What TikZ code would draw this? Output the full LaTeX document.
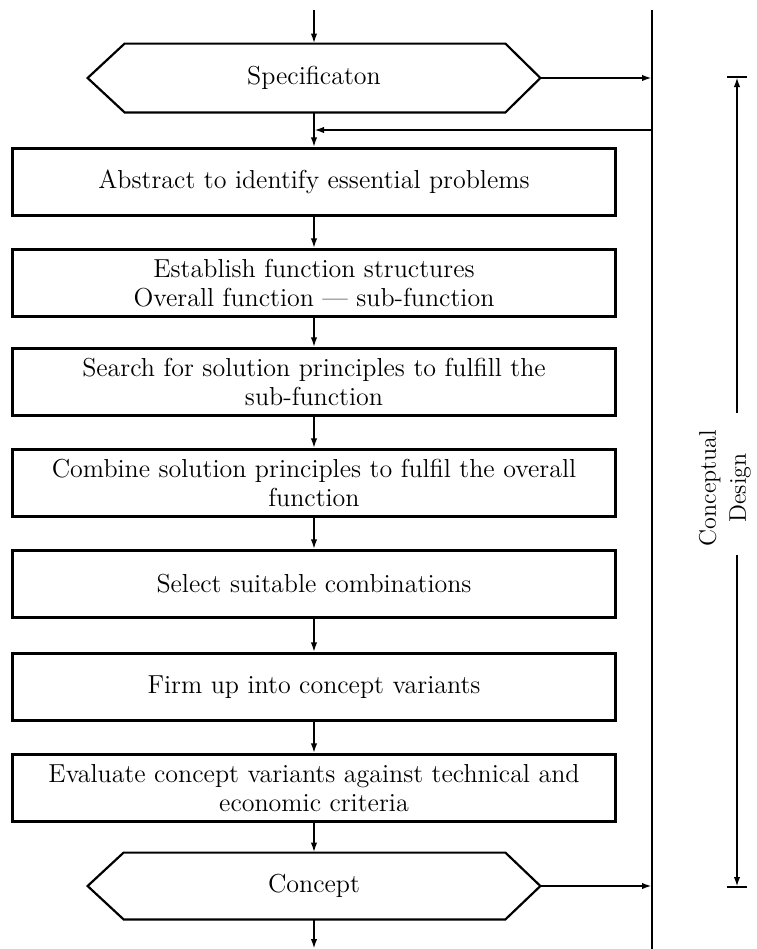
\documentclass[tikz,border=0pt]{standalone}
\usetikzlibrary{arrows.meta,calc}

\tikzset{
  flow/.style={line width=1.1pt},
  arr/.style={flow,-{Latex[length=5pt,width=3.2pt]}},
  stepbox/.style={draw,flow,minimum width=301.5pt,minimum height=33.5pt,
    align=center,inner sep=0pt,font=\fontsize{13}{14.5}\selectfont},
  hexlabel/.style={minimum width=226pt,minimum height=34pt,inner sep=0pt,
    font=\fontsize{13}{14.5}\selectfont},
  hexdraw/.style={flow},
  sidelabel/.style={align=center,rotate=90,font=\fontsize{12}{15}\selectfont}
}

\begin{document}
\begin{tikzpicture}[x=0.5pt,y=-0.5pt]
  \useasboundingbox (0,0) rectangle (756,949);

  % main column and side rail
  \coordinate (in) at (314,10);
  \coordinate (out) at (314,949);
  \coordinate (railtop) at (652,10);
  \coordinate (railbot) at (652,949);
  \coordinate (ret) at (652,130);

  % entry hexagon
  \node[hexlabel] (spec) at (314,78) {Specificaton};
  \draw[hexdraw] (spec.west) -- ([xshift=18.5pt]spec.north west)
    -- ([xshift=-17.5pt]spec.north east) -- (spec.east)
    -- ([xshift=-17.5pt]spec.south east) -- ([xshift=18.5pt]spec.south west) -- cycle;

  % process steps
  \node[stepbox] (b1) at (314,182) {Abstract to identify essential problems};
  \node[stepbox] (b2) at (314,283) {Establish function structures\\Overall function --- sub-function};
  \node[stepbox] (b3) at (314,382) {Search for solution principles to fulfill the\\sub-function};
  \node[stepbox] (b4) at (314,483) {Combine solution principles to fulfil the overall\\function};
  \node[stepbox] (b5) at (314,584) {Select suitable combinations};
  \node[stepbox] (b6) at (314,687) {Firm up into concept variants};
  \node[stepbox] (b7) at (314,788) {Evaluate concept variants against technical and\\economic criteria};

  % exit hexagon
  \node[hexlabel,minimum height=33pt] (conc) at (314,886) {Concept};
  \draw[hexdraw] (conc.west) -- ([xshift=18pt]conc.north west)
    -- ([xshift=-17.5pt]conc.north east) -- (conc.east)
    -- ([xshift=-17.5pt]conc.south east) -- ([xshift=18pt]conc.south west) -- cycle;

  % connectors
  \draw[line width=1.2pt] (railtop) -- (railbot);
  \draw[arr] (in) -- (spec.north);
  \draw[arr] (spec.east) -- (spec.east -| railtop);
  \draw[arr] (ret) -- (ret -| spec.south);
  \draw[arr] (spec.south) -- (b1.north);
  \draw[arr] (b1.south) -- (b2.north);
  \draw[arr] (b2.south) -- (b3.north);
  \draw[arr] (b3.south) -- (b4.north);
  \draw[arr] (b4.south) -- (b5.north);
  \draw[arr] (b5.south) -- (b6.north);
  \draw[arr] (b6.south) -- (b7.north);
  \draw[arr] (b7.south) -- (conc.north);
  \draw[arr] (conc.east) -- (conc.east -| railbot);
  \draw[arr] (conc.south) -- (out);

  % phase dimension
  \coordinate (dtop) at (737,77);
  \coordinate (dbot) at (737,887);
  \coordinate (gapT) at (737,413);
  \coordinate (gapB) at (737,555);
  \node[sidelabel] (phase) at (725,488) {Conceptual\\Design};
  \draw[arr] (gapT) -- (dtop);
  \draw[arr] (gapB) -- (dbot);
  \draw[flow] ([xshift=-5pt]dtop) -- ([xshift=5pt]dtop);
  \draw[flow] ([xshift=-5pt]dbot) -- ([xshift=5pt]dbot);
\end{tikzpicture}
\end{document}
